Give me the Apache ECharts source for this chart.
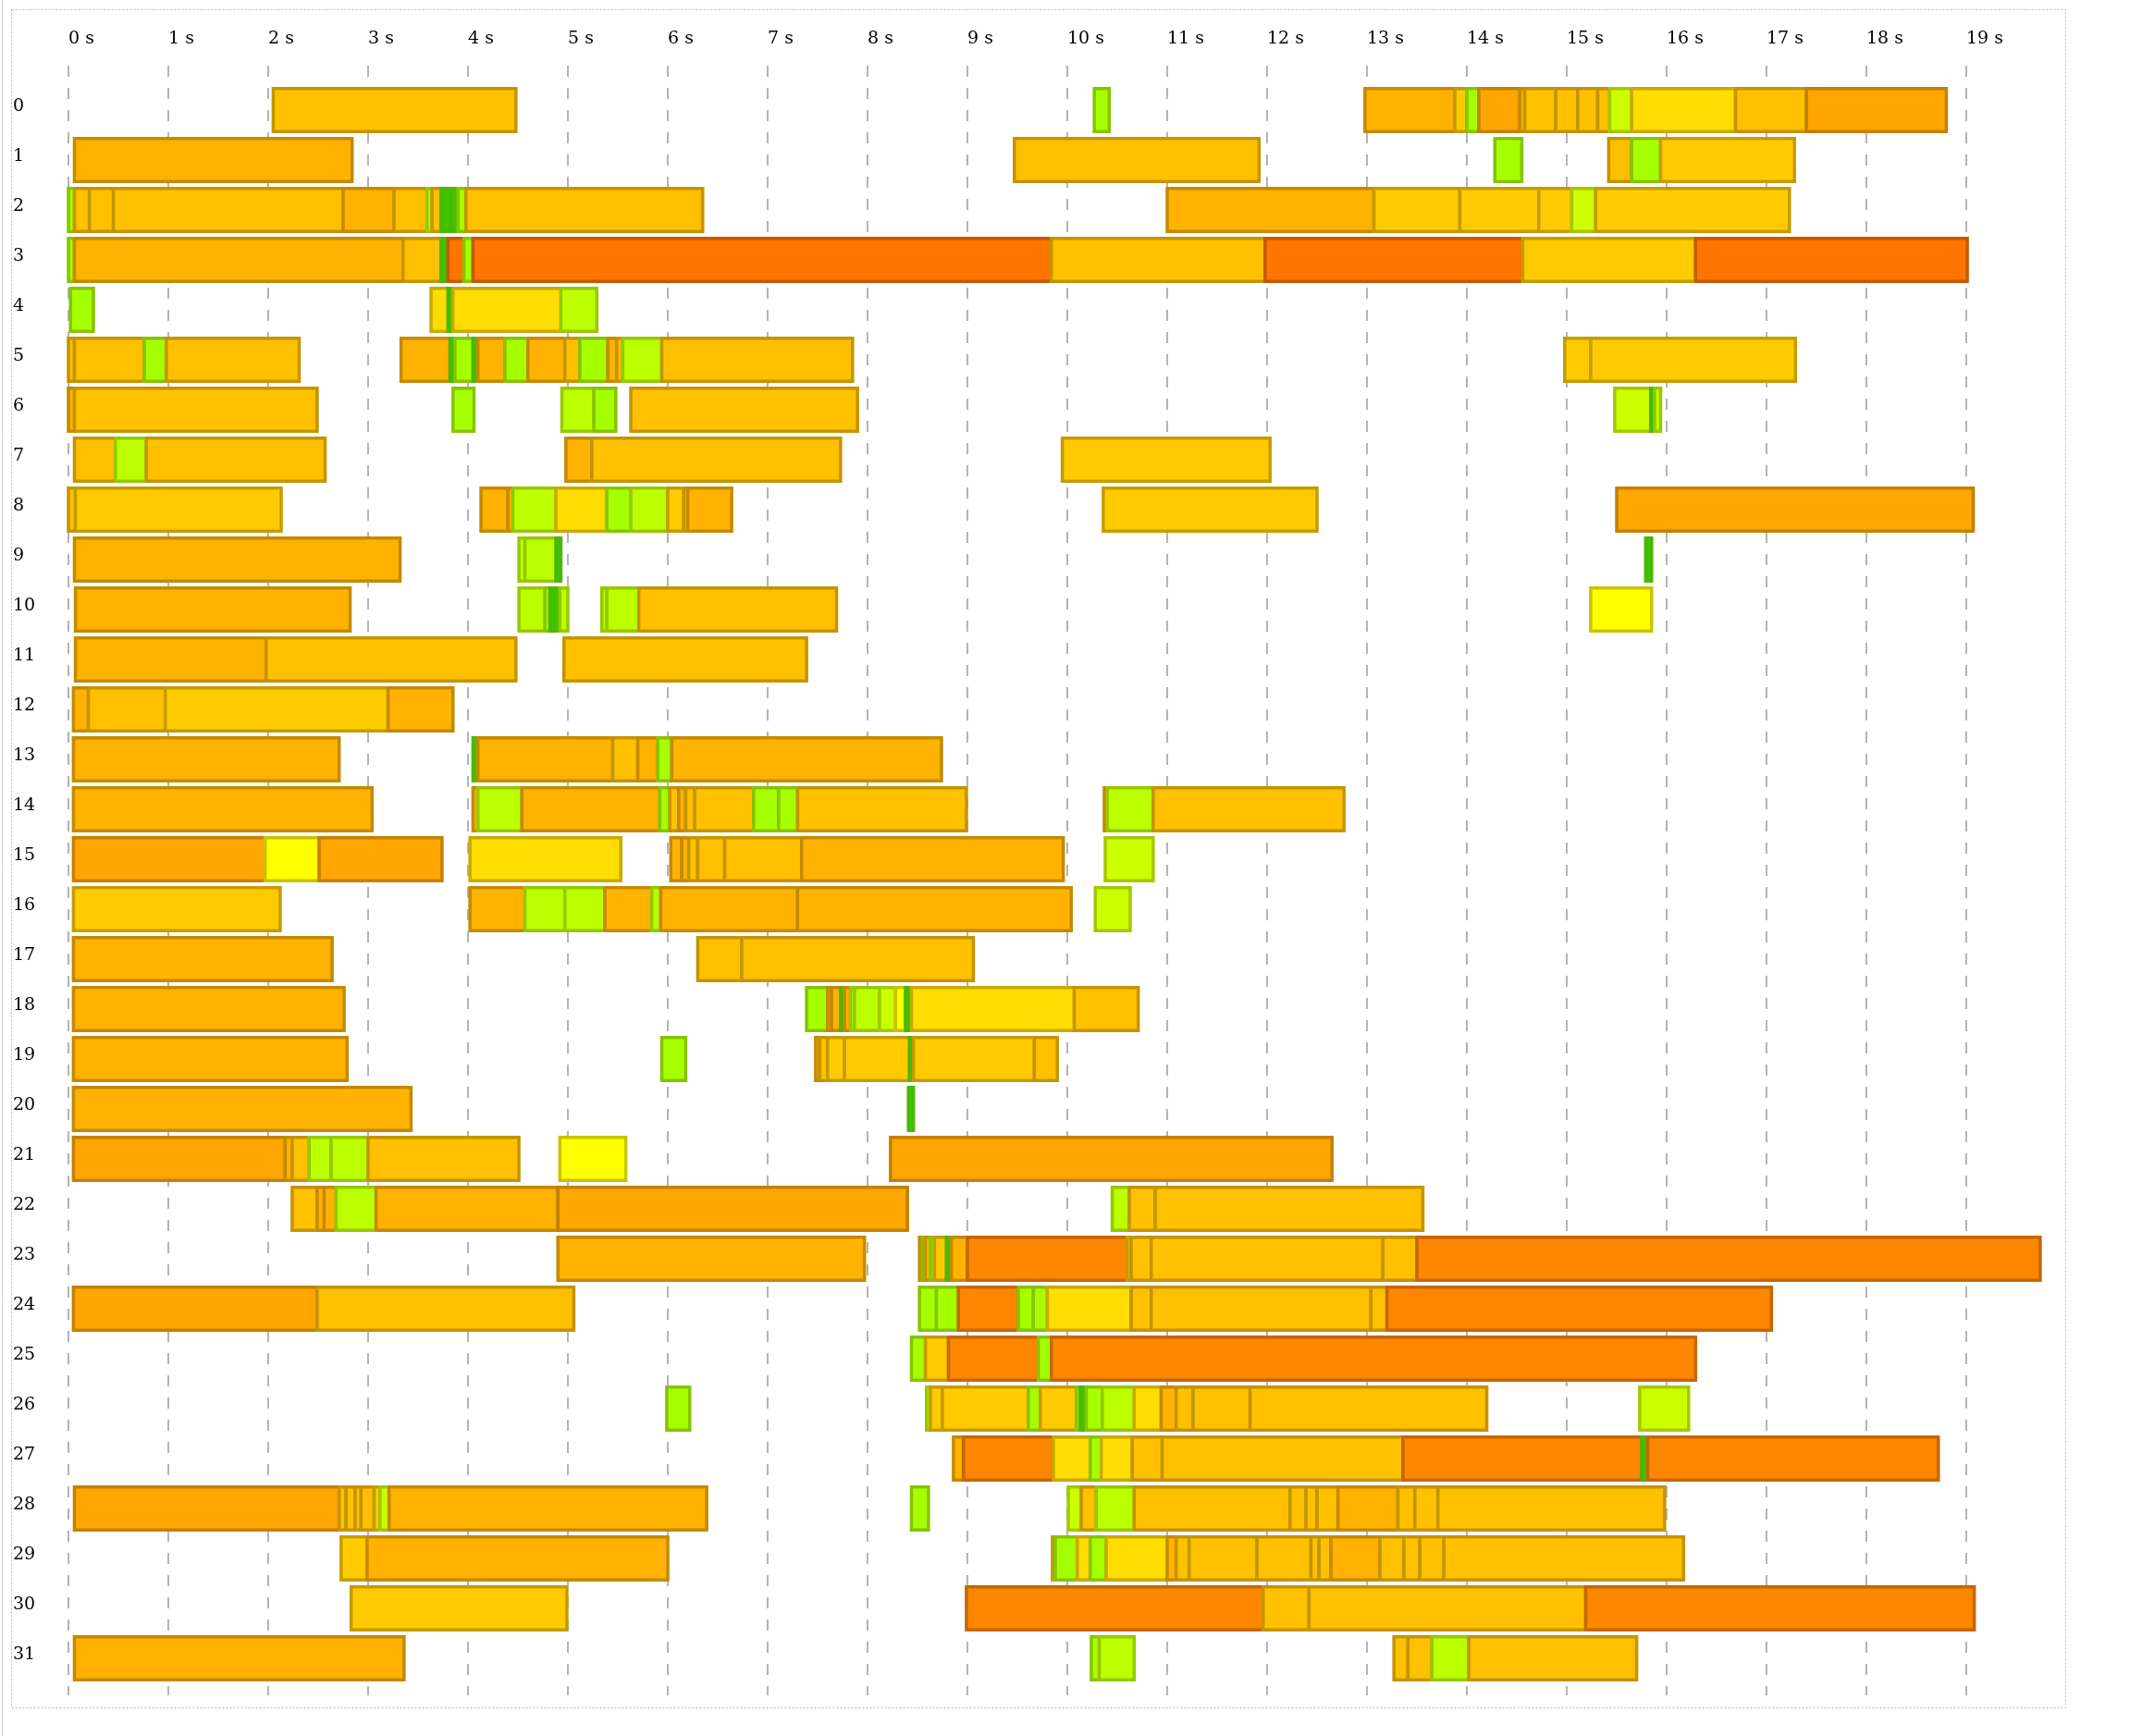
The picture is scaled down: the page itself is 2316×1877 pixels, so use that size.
<!DOCTYPE html>
<html>
<head>
<meta charset="utf-8">
<title>Timeline</title>
<script src="https://cdn.jsdelivr.net/npm/echarts@6/dist/echarts.min.js"></script>
<style>
  html, body { margin: 0; padding: 0; background: #fff; }
  #main { width: 2316px; height: 1877px; }
</style>
</head>
<body>
<div id="main"></div>
<script>
// row names (y axis)
const rowNames = ['0','1','2','3','4','5','6','7','8','9','10','11','12','13','14','15',
  '16','17','18','19','20','21','22','23','24','25','26','27','28','29','30','31'];

// fill and edge colour of each level, green -> dark orange
const levelColors = ['#40c400','#a6ff00','#bbff00','#ccff00','#ffff00','#ffdd00',
  '#ffcb00','#ffc000','#ffb300','#ffa600','#ff8600','#ff7500'];
const edgeColors = ['#48b800','#86c400','#96c800','#a4c800','#c8c400','#c8aa00',
  '#c49c00','#c49400','#c48a00','#c48000','#c46800','#c45a00'];

// one list per row: [start s, end s, level]
const tracks = [
  /* 0 */ [[2.05,4.48,7],[10.27,10.42,1],[12.98,13.88,8],[13.88,14.0,6],[14.0,14.12,1],[14.12,14.53,9],[14.53,14.58,8],[14.58,14.89,7],[14.89,15.11,7],[15.11,15.31,7],[15.31,15.43,7],[15.43,15.65,3],[15.65,16.69,5],[16.69,17.4,7],[17.4,18.8,9]],
  /* 1 */ [[0.06,2.84,8],[9.47,11.92,7],[14.28,14.55,1],[15.42,15.65,7],[15.65,15.94,1],[15.94,17.28,6]],
  /* 2 */ [[0,0.06,1],[0.06,0.21,7],[0.21,0.45,7],[0.45,2.75,7],[2.75,3.26,8],[3.26,3.59,7],[3.59,3.64,2],[3.64,3.73,7],[3.73,3.83,0],[3.83,3.9,0],[3.9,3.98,1],[3.98,6.35,7],[11.0,13.07,8],[13.07,13.93,6],[13.93,14.72,6],[14.72,15.05,6],[15.05,15.29,3],[15.29,17.23,6]],
  /* 3 */ [[0,0.06,1],[0.06,3.35,8],[3.35,3.73,7],[3.73,3.8,0],[3.8,3.96,11],[3.96,4.05,1],[4.05,9.84,11],[9.84,11.98,7],[11.98,14.56,11],[14.56,16.29,6],[16.29,19.01,11]],
  /* 4 */ [[0.02,0.25,1],[3.63,3.8,5],[3.8,3.85,0],[3.85,4.93,5],[4.93,5.29,2]],
  /* 5 */ [[0,0.06,7],[0.06,0.76,7],[0.76,0.98,1],[0.98,2.31,7],[3.33,3.82,8],[3.82,3.87,0],[3.87,4.05,1],[4.05,4.1,0],[4.1,4.37,8],[4.37,4.6,1],[4.6,4.97,8],[4.97,5.12,7],[5.12,5.4,1],[5.4,5.49,8],[5.49,5.55,7],[5.55,5.94,2],[5.94,7.85,7],[14.98,15.24,6],[15.24,17.29,6]],
  /* 6 */ [[0,0.06,8],[0.06,2.49,7],[3.85,4.06,1],[4.94,5.26,2],[5.26,5.48,1],[5.63,7.9,7],[15.48,15.84,3],[15.84,15.88,0],[15.88,15.94,2]],
  /* 7 */ [[0.06,0.47,7],[0.47,0.78,2],[0.78,2.57,7],[4.98,5.24,8],[5.24,7.73,7],[9.95,12.03,6]],
  /* 8 */ [[0,0.07,7],[0.07,2.13,6],[4.13,4.4,8],[4.4,4.45,8],[4.45,4.88,2],[4.88,5.39,5],[5.39,5.63,1],[5.63,6.0,2],[6.0,6.16,6],[6.16,6.2,7],[6.2,6.64,8],[10.36,12.5,6],[15.5,19.07,9]],
  /* 9 */ [[0.06,3.32,8],[4.51,4.57,2],[4.57,4.88,2],[4.88,4.93,0],[15.79,15.85,0]],
  /* 10 */ [[0.07,2.82,8],[4.51,4.77,2],[4.77,4.82,1],[4.82,4.92,0],[4.92,5.0,2],[5.34,5.39,2],[5.39,5.71,2],[5.71,7.69,7],[15.24,15.85,4]],
  /* 11 */ [[0.07,1.98,8],[1.98,4.48,7],[4.96,7.39,7]],
  /* 12 */ [[0.05,0.2,8],[0.2,0.97,7],[0.97,3.2,6],[3.2,3.85,8]],
  /* 13 */ [[0.05,2.71,8],[4.05,4.1,0],[4.1,5.45,8],[5.45,5.7,7],[5.7,5.9,8],[5.9,6.04,1],[6.04,8.74,8]],
  /* 14 */ [[0.05,3.04,8],[4.05,4.1,8],[4.1,4.54,2],[4.54,5.92,8],[5.92,6.02,1],[6.02,6.11,7],[6.11,6.18,8],[6.18,6.27,7],[6.27,6.86,7],[6.86,7.11,1],[7.11,7.3,1],[7.3,8.99,7],[10.37,10.4,8],[10.4,10.86,2],[10.86,12.77,7]],
  /* 15 */ [[0.05,1.97,9],[1.97,2.51,4],[2.51,3.74,9],[4.02,5.53,5],[6.03,6.14,8],[6.14,6.21,8],[6.21,6.3,7],[6.3,6.57,7],[6.57,7.34,7],[7.34,9.96,8],[10.38,10.86,3]],
  /* 16 */ [[0.05,2.12,6],[4.02,4.57,8],[4.57,4.97,2],[4.97,5.37,2],[5.37,5.84,8],[5.84,5.93,2],[5.93,7.3,8],[7.3,10.04,8],[10.28,10.63,3]],
  /* 17 */ [[0.05,2.64,8],[6.3,6.74,7],[6.74,9.06,7]],
  /* 18 */ [[0.05,2.76,8],[7.39,7.6,1],[7.6,7.64,8],[7.64,7.73,8],[7.73,7.77,0],[7.77,7.83,8],[7.83,7.87,2],[7.87,8.12,2],[8.12,8.28,3],[8.28,8.38,4],[8.38,8.44,0],[8.44,10.07,5],[10.07,10.71,7]],
  /* 19 */ [[0.05,2.79,8],[5.94,6.18,1],[7.48,7.52,8],[7.52,7.6,7],[7.6,7.77,6],[7.77,8.42,6],[8.42,8.46,0],[8.46,9.67,6],[9.67,9.9,7]],
  /* 20 */ [[0.05,3.43,8],[8.41,8.46,0]],
  /* 21 */ [[0.05,2.17,9],[2.17,2.24,8],[2.24,2.41,7],[2.41,2.63,2],[2.63,3.0,2],[3.0,4.51,7],[4.92,5.58,4],[8.23,12.65,9]],
  /* 22 */ [[2.24,2.49,7],[2.49,2.56,8],[2.56,2.68,8],[2.68,3.08,2],[3.08,4.9,8],[4.9,8.4,9],[10.45,10.62,2],[10.62,10.88,7],[10.88,13.56,7]],
  /* 23 */ [[4.9,7.97,8],[8.52,8.55,8],[8.55,8.58,1],[8.58,8.63,7],[8.63,8.67,1],[8.67,8.79,6],[8.79,8.84,0],[8.84,9.0,8],[9.0,10.6,10],[10.6,10.64,6],[10.64,10.84,7],[10.84,13.16,7],[13.16,13.5,7],[13.5,19.74,10]],
  /* 24 */ [[0.05,2.49,9],[2.49,5.06,7],[8.52,8.69,1],[8.69,8.91,1],[8.91,9.51,10],[9.51,9.66,1],[9.66,9.8,1],[9.8,10.64,5],[10.64,10.84,7],[10.84,13.04,7],[13.04,13.2,7],[13.2,17.05,10]],
  /* 25 */ [[8.44,8.58,1],[8.58,8.81,6],[8.81,9.71,10],[9.71,9.84,1],[9.84,16.29,10]],
  /* 26 */ [[5.99,6.22,1],[8.59,8.63,2],[8.63,8.75,6],[8.75,9.61,6],[9.61,9.73,1],[9.73,10.09,6],[10.09,10.13,1],[10.13,10.19,0],[10.19,10.35,1],[10.35,10.67,2],[10.67,10.94,5],[10.94,11.09,8],[11.09,11.26,7],[11.26,11.83,7],[11.83,14.2,7],[15.73,16.22,3]],
  /* 27 */ [[8.86,8.96,8],[8.96,9.86,10],[9.86,10.23,5],[10.23,10.34,1],[10.34,10.65,5],[10.65,10.95,7],[10.95,13.36,7],[13.36,15.75,10],[15.75,15.81,0],[15.81,18.72,10]],
  /* 28 */ [[0.06,2.71,9],[2.71,2.78,7],[2.78,2.87,7],[2.87,2.93,7],[2.93,3.06,7],[3.06,3.12,6],[3.12,3.21,3],[3.21,6.39,8],[8.44,8.61,1],[10.01,10.14,3],[10.14,10.29,7],[10.29,10.67,2],[10.67,12.23,7],[12.23,12.39,7],[12.39,12.5,7],[12.5,12.71,7],[12.71,13.31,8],[13.31,13.48,7],[13.48,13.71,7],[13.71,15.98,7]],
  /* 29 */ [[2.73,2.99,6],[2.99,6.0,8],[9.85,9.88,6],[9.88,10.1,1],[10.1,10.23,5],[10.23,10.39,1],[10.39,11.0,5],[11.0,11.09,8],[11.09,11.22,7],[11.22,11.9,7],[11.9,12.44,7],[12.44,12.52,7],[12.52,12.64,7],[12.64,13.13,8],[13.13,13.37,7],[13.37,13.53,7],[13.53,13.77,7],[13.77,16.17,7]],
  /* 30 */ [[2.83,4.99,6],[8.99,11.96,10],[11.96,12.42,7],[12.42,15.19,7],[15.19,19.08,10]],
  /* 31 */ [[0.06,3.36,8],[10.24,10.32,1],[10.32,10.67,2],[13.27,13.41,7],[13.41,13.65,7],[13.65,14.02,2],[14.02,15.7,7]]
];

const FONT = 'DejaVu Serif';

// flatten into [start, row, end, level]
const segData = [];
tracks.forEach(function (segs, row) {
  segs.forEach(function (s) {
    segData.push([s[0], row, s[1], s[2]]);
  });
});

function renderSeg(params, api) {
  const row = api.value(1);
  const a = api.coord([api.value(0), row]);
  const b = api.coord([api.value(2), row]);
  const h = api.size([0, 1])[1] * 0.86;
  const lv = api.value(3);
  return {
    type: 'rect',
    shape: { x: a[0], y: a[1] - h / 2, width: Math.max(b[0] - a[0], 1), height: h },
    style: { fill: levelColors[lv], stroke: edgeColors[lv], lineWidth: 3.5 }
  };
}

const chart = echarts.init(document.getElementById('main'));
chart.setOption({
  animation: false,
  backgroundColor: '#fff',
  graphic: [
    { type: 'line', silent: true, shape: { x1: 2.5, y1: 0, x2: 2.5, y2: 1877 },
      style: { stroke: '#d4cec8', lineWidth: 1 } },
    { type: 'rect', silent: true, shape: { x: 12.5, y: 10.5, width: 2221, height: 1836 },
      style: { fill: 'none', stroke: '#b8b8b8', lineWidth: 1, lineDash: [2, 2] } }
  ],
  grid: [
    { left: 74, right: 82, top: 71, bottom: 44 },
    { left: 74, right: 82, top: 92, bottom: 57 }
  ],
  xAxis: [
    {
      gridIndex: 0, type: 'value', position: 'top', min: 0, max: 20, interval: 1,
      axisLine: { show: false }, axisTick: { show: false },
      axisLabel: {
        formatter: '{value} s', align: 'left', verticalAlign: 'middle', margin: 29,
        showMaxLabel: false, fontFamily: FONT, fontSize: 19, color: '#000'
      },
      splitLine: {
        show: true, showMaxLine: false,
        lineStyle: { color: '#b4b4b4', width: 2, type: [12, 12] }
      }
    },
    { gridIndex: 1, type: 'value', min: 0, max: 20, show: false }
  ],
  yAxis: [
    { gridIndex: 0, type: 'value', min: 0, max: 1, show: false },
    {
      gridIndex: 1, type: 'category', data: rowNames, inverse: true,
      axisLine: { show: false }, axisTick: { show: false }, splitLine: { show: false },
      axisLabel: {
        align: 'left', margin: 60, fontFamily: FONT, fontSize: 19, color: '#000',
        verticalAlign: 'bottom', lineHeight: 8
      }
    }
  ],
  series: [{
    type: 'custom',
    xAxisIndex: 1,
    yAxisIndex: 1,
    renderItem: renderSeg,
    encode: { x: [0, 2], y: 1 },
    data: segData
  }]
});
</script>
</body>
</html>
